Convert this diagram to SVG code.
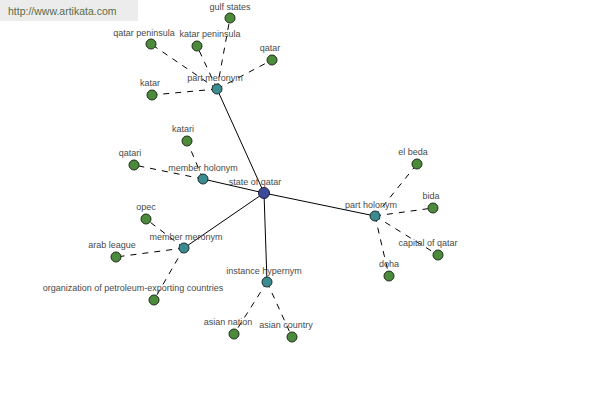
<svg xmlns="http://www.w3.org/2000/svg" width="600" height="400" viewBox="0 0 600 400">
<style>
.bg{fill:#ffffff}
.wm{fill:#ececec}
.wmt{font-family:"Liberation Sans",Arial,sans-serif;font-size:10.5px;fill:#5b6b47}
.e{stroke:#000;stroke-width:1;fill:none}
.d{stroke:#000;stroke-width:1;fill:none;stroke-dasharray:6,6}
.leaf{fill:#4c8a3c;stroke:#1e2e1a;stroke-width:1}
.rel{fill:#3a8c8e;stroke:#1a2e2e;stroke-width:1}
.root{fill:#3e4a98;stroke:#1a1e3e;stroke-width:1}
.l{font-family:"Liberation Sans",Arial,sans-serif;font-size:9px;fill:#4a4a4a;text-anchor:middle}
</style>
<rect class="bg" x="0" y="0" width="600" height="400"/>
<rect class="wm" x="0" y="0" width="138" height="21"/>
<text class="wmt" x="8" y="15">http://www.artikata.com</text>
<g id="connectors">
<line class="e" x1="264" y1="193" x2="217" y2="89"/>
<line class="e" x1="264" y1="193" x2="203" y2="179"/>
<line class="e" x1="264" y1="193" x2="184" y2="248"/>
<line class="e" x1="264" y1="193" x2="267" y2="282"/>
<line class="e" x1="264" y1="193" x2="375" y2="216"/>
<line class="d" x1="217" y1="89" x2="230" y2="18"/>
<line class="d" x1="217" y1="89" x2="151" y2="44"/>
<line class="d" x1="217" y1="89" x2="197" y2="46"/>
<line class="d" x1="217" y1="89" x2="272" y2="60"/>
<line class="d" x1="217" y1="89" x2="152" y2="95"/>
<line class="d" x1="203" y1="179" x2="187" y2="141"/>
<line class="d" x1="203" y1="179" x2="134" y2="165"/>
<line class="d" x1="184" y1="248" x2="146" y2="219"/>
<line class="d" x1="184" y1="248" x2="116" y2="257"/>
<line class="d" x1="184" y1="248" x2="154" y2="300"/>
<line class="d" x1="267" y1="282" x2="234" y2="334"/>
<line class="d" x1="267" y1="282" x2="292" y2="337"/>
<line class="d" x1="375" y1="216" x2="417" y2="164"/>
<line class="d" x1="375" y1="216" x2="433" y2="208"/>
<line class="d" x1="375" y1="216" x2="438" y2="255"/>
<line class="d" x1="375" y1="216" x2="389" y2="276"/>
</g>
<g id="gulf-states"><circle class="leaf" cx="230" cy="18" r="5"/><text class="l" x="230" y="10">gulf states</text></g>
<g id="qatar-peninsula"><circle class="leaf" cx="151" cy="44" r="5"/><text class="l" x="144" y="36">qatar peninsula</text></g>
<g id="katar-peninsula"><circle class="leaf" cx="197" cy="46" r="5"/><text class="l" x="210" y="37">katar peninsula</text></g>
<g id="qatar"><circle class="leaf" cx="272" cy="60" r="5"/><text class="l" x="270" y="51">qatar</text></g>
<g id="katar"><circle class="leaf" cx="152" cy="95" r="5"/><text class="l" x="150" y="86">katar</text></g>
<g id="katari"><circle class="leaf" cx="187" cy="141" r="5"/><text class="l" x="183" y="132">katari</text></g>
<g id="qatari"><circle class="leaf" cx="134" cy="165" r="5"/><text class="l" x="130" y="156">qatari</text></g>
<g id="opec"><circle class="leaf" cx="146" cy="219" r="5"/><text class="l" x="146" y="210">opec</text></g>
<g id="arab-league"><circle class="leaf" cx="116" cy="257" r="5"/><text class="l" x="112" y="248">arab league</text></g>
<g id="opec-full"><circle class="leaf" cx="154" cy="300" r="5"/><text class="l" x="133" y="291">organization of petroleum-exporting countries</text></g>
<g id="asian-nation"><circle class="leaf" cx="234" cy="334" r="5"/><text class="l" x="228" y="325">asian nation</text></g>
<g id="asian-country"><circle class="leaf" cx="292" cy="337" r="5"/><text class="l" x="286" y="328">asian country</text></g>
<g id="el-beda"><circle class="leaf" cx="417" cy="164" r="5"/><text class="l" x="413" y="155">el beda</text></g>
<g id="bida"><circle class="leaf" cx="433" cy="208" r="5"/><text class="l" x="431" y="199">bida</text></g>
<g id="capital-of-qatar"><circle class="leaf" cx="438" cy="255" r="5"/><text class="l" x="428" y="246">capital of qatar</text></g>
<g id="doha"><circle class="leaf" cx="389" cy="276" r="5"/><text class="l" x="389" y="267">doha</text></g>
<g id="part-meronym"><circle class="rel" cx="217" cy="89" r="5"/><text class="l" x="215" y="81">part meronym</text></g>
<g id="member-holonym"><circle class="rel" cx="203" cy="179" r="5"/><text class="l" x="203" y="171">member holonym</text></g>
<g id="member-meronym"><circle class="rel" cx="184" cy="248" r="5"/><text class="l" x="186" y="240">member meronym</text></g>
<g id="instance-hypernym"><circle class="rel" cx="267" cy="282" r="5"/><text class="l" x="264" y="274">instance hypernym</text></g>
<g id="part-holonym"><circle class="rel" cx="375" cy="216" r="5"/><text class="l" x="371" y="208">part holonym</text></g>
<g id="state-of-qatar"><circle class="root" cx="264" cy="193" r="5.5"/><text class="l" x="255" y="185">state of qatar</text></g>
</svg>
